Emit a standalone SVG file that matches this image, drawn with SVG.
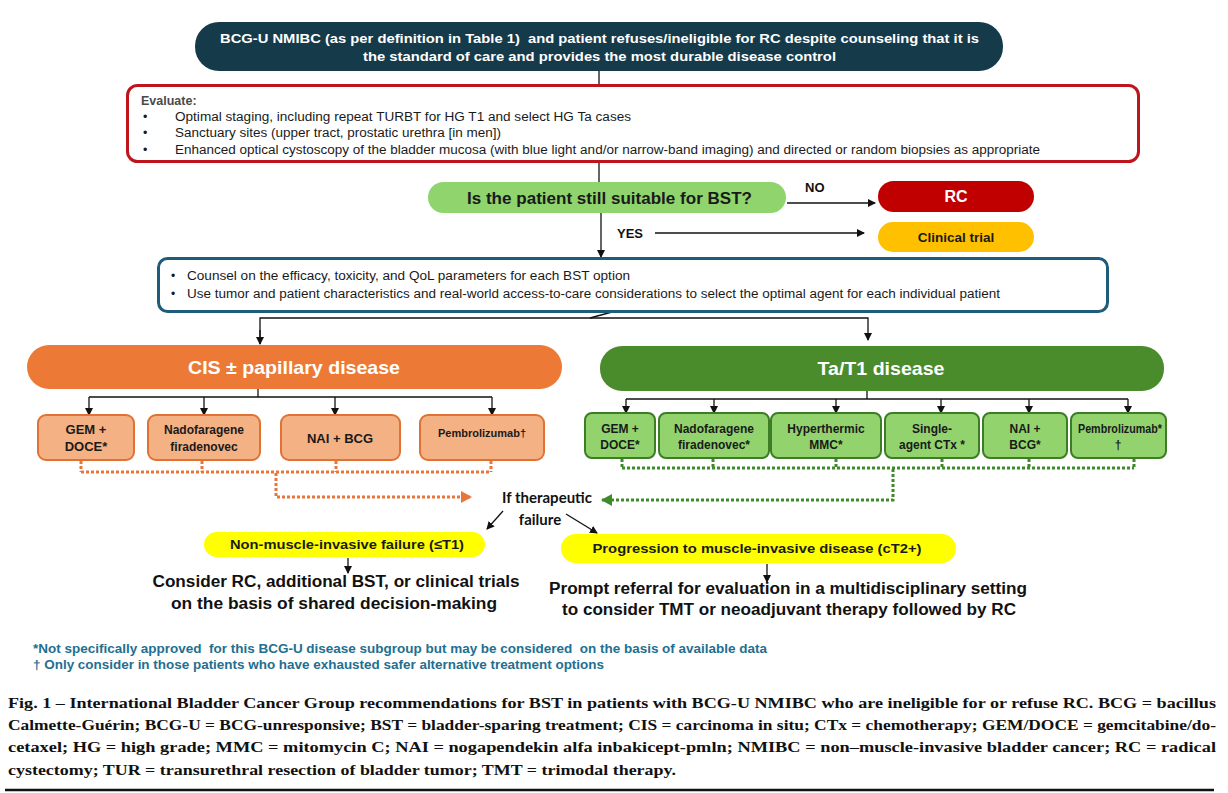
<svg xmlns="http://www.w3.org/2000/svg" width="1228" height="793" viewBox="0 0 1228 793">
<style>
.n{font-family:'Liberation Sans Narrow','Liberation Sans',Arial,sans-serif;font-weight:bold}
.a{font-family:'Liberation Sans',Arial,sans-serif}
.b{font-family:'Liberation Sans',Arial,sans-serif;font-weight:bold}
.c{text-anchor:middle}
.pre{white-space:pre}
.ln{stroke:#111;stroke-width:1.3;fill:none}
.cisbox{fill:#f4b183;stroke:#e07333;stroke-width:2}
.tabox{fill:#92d36e;stroke:#3c7d26;stroke-width:2}
.dot-o{stroke:#e8763a;stroke-width:3;stroke-dasharray:3 2;fill:none}
.dot-g{stroke:#3f8a2a;stroke-width:3;stroke-dasharray:3 2;fill:none}
.cap{font-family:'Liberation Serif','Times New Roman',serif;font-weight:bold;font-size:15px;fill:#111}
</style>
<defs>
<marker id="ah" markerWidth="8" markerHeight="8" refX="7" refY="4" orient="auto" markerUnits="userSpaceOnUse">
<path d="M0,0 L8,4 L0,8 z" fill="#111"/>
</marker>
<marker id="aho" markerWidth="12" markerHeight="12" refX="10" refY="6" orient="auto" markerUnits="userSpaceOnUse">
<path d="M0,0 L11,6 L0,12 z" fill="#e8763a"/>
</marker>
<marker id="ahg" markerWidth="12" markerHeight="12" refX="10" refY="6" orient="auto" markerUnits="userSpaceOnUse">
<path d="M0,0 L11,6 L0,12 z" fill="#3f8a2a"/>
</marker>
</defs>
<rect width="1228" height="793" fill="#fff"/>

<g id="connectors">
<line class="ln" x1="599" y1="71" x2="599" y2="86"/>
<line class="ln" x1="599" y1="162" x2="599" y2="182"/>
<line class="ln" x1="601" y1="213" x2="601" y2="257" marker-end="url(#ah)"/>
<line class="ln" x1="787" y1="203" x2="875" y2="203" marker-end="url(#ah)"/>
<line class="ln" x1="655" y1="233" x2="864" y2="233" marker-end="url(#ah)"/>
<polyline class="ln" points="612,312 590,318"/>
<polyline class="ln" points="260,344 260,318 868,318 868,340" marker-end="url(#ah)"/>
<line class="ln" x1="260" y1="330" x2="260" y2="344" marker-end="url(#ah)"/>
<polyline class="ln" points="258,389 258,397"/>
<line class="ln" x1="89" y1="397" x2="492" y2="397"/>
<line class="ln" x1="89" y1="397" x2="89" y2="415" marker-end="url(#ah)"/>
<line class="ln" x1="204" y1="397" x2="204" y2="415" marker-end="url(#ah)"/>
<line class="ln" x1="335" y1="397" x2="335" y2="415" marker-end="url(#ah)"/>
<line class="ln" x1="492" y1="397" x2="492" y2="415" marker-end="url(#ah)"/>
<polyline class="ln" points="867,391 867,399"/>
<line class="ln" x1="626" y1="399" x2="1128" y2="399"/>
<line class="ln" x1="626" y1="399" x2="626" y2="413" marker-end="url(#ah)"/>
<line class="ln" x1="714" y1="399" x2="714" y2="413" marker-end="url(#ah)"/>
<line class="ln" x1="836" y1="399" x2="836" y2="413" marker-end="url(#ah)"/>
<line class="ln" x1="941" y1="399" x2="941" y2="413" marker-end="url(#ah)"/>
<line class="ln" x1="1029" y1="399" x2="1029" y2="413" marker-end="url(#ah)"/>
<line class="ln" x1="1128" y1="399" x2="1128" y2="413" marker-end="url(#ah)"/>
<path class="dot-o" d="M81,461 V472 M202,461 V472 M336,461 V472 M491,461 V472 M81,472 H491"/>
<polyline class="dot-o" points="276,473 276,497 471,497" marker-end="url(#aho)"/>
<path class="dot-g" d="M622,459 V468 M713,459 V468 M836,459 V468 M942,459 V468 M1029,459 V468 M1134,459 V468 M622,468 H1134"/>
<polyline class="dot-g" points="893,469 893,500 602,500" marker-end="url(#ahg)"/>
<line class="ln" x1="503" y1="511" x2="487" y2="529" marker-end="url(#ah)"/>
<line class="ln" x1="566" y1="514" x2="597" y2="533" marker-end="url(#ah)"/>
<line class="ln" x1="348" y1="558" x2="348" y2="573" marker-end="url(#ah)"/>
<line class="ln" x1="767" y1="564" x2="767" y2="582" marker-end="url(#ah)"/>
</g>

<g id="header">
<rect x="195" y="22" width="808" height="49" rx="24" fill="#153b4b"/>
<text class="n c pre" x="599.5" y="43" font-size="13" fill="#fff" textLength="759" lengthAdjust="spacingAndGlyphs">BCG-U NMIBC (as per definition in Table 1)  and patient refuses/ineligible for RC despite counseling that it is</text>
<text class="n c" x="599.5" y="61" font-size="13" fill="#fff" textLength="473" lengthAdjust="spacingAndGlyphs">the standard of care and provides the most durable disease control</text>
</g>

<g id="evaluate">
<rect x="127.5" y="85.5" width="1011" height="76" rx="10" fill="#fff" stroke="#c0141c" stroke-width="3"/>
<text class="b" x="141" y="105" font-size="12.5" fill="#4a4a4a">Evaluate:</text>
<g class="a" font-size="12.5" fill="#1a1a1a">
<text x="143" y="120.5">•</text>
<text x="175" y="120.5" textLength="456" lengthAdjust="spacingAndGlyphs">Optimal staging, including repeat TURBT for HG T1 and select HG Ta cases</text>
<text x="143" y="137">•</text>
<text x="175" y="137" textLength="326" lengthAdjust="spacingAndGlyphs">Sanctuary sites (upper tract, prostatic urethra [in men])</text>
<text x="143" y="153.5">•</text>
<text x="175" y="153.5" textLength="865" lengthAdjust="spacingAndGlyphs">Enhanced optical cystoscopy of the bladder mucosa (with blue light and/or narrow-band imaging) and directed or random biopsies as appropriate</text>
</g>
</g>

<g id="question">
<rect x="428" y="182" width="358" height="31" rx="15.5" fill="#8fd46c"/>
<text class="n c" x="609.5" y="204" font-size="17" fill="#1a1a1a" textLength="285" lengthAdjust="spacingAndGlyphs">Is the patient still suitable for BST?</text>
</g>

<g id="label-no"><text class="n" x="805" y="192" font-size="13" fill="#111">NO</text></g>
<g id="label-yes"><text class="n" x="617" y="238" font-size="13" fill="#111">YES</text></g>

<g id="rc">
<rect x="878" y="181" width="156" height="31" rx="15.5" fill="#c00000"/>
<text class="n c" x="956" y="202" font-size="16" fill="#fff">RC</text>
</g>

<g id="clinical-trial">
<rect x="878" y="222" width="156" height="30" rx="15" fill="#ffc000"/>
<text class="n c" x="956" y="242" font-size="13.5" fill="#1a1a1a">Clinical trial</text>
</g>

<g id="counsel">
<rect x="158.5" y="258.5" width="949" height="53" rx="9" fill="#fff" stroke="#1f5c7a" stroke-width="3"/>
<g class="a" font-size="12" fill="#1a1a1a">
<text x="171" y="280">•</text>
<text x="187" y="280" textLength="443" lengthAdjust="spacingAndGlyphs">Counsel on the efficacy, toxicity, and QoL parameters for each BST option</text>
<text x="171" y="298">•</text>
<text x="187" y="298" textLength="813" lengthAdjust="spacingAndGlyphs">Use tumor and patient characteristics and real-world access-to-care considerations to select the optimal agent for each individual patient</text>
</g>
</g>

<g id="cis">
<rect x="27" y="345" width="535" height="44" rx="22" fill="#ec7a36"/>
<text class="n c" x="294" y="374" font-size="19" fill="#fff" textLength="212" lengthAdjust="spacingAndGlyphs">CIS ± papillary disease</text>
</g>

<g id="tat1">
<rect x="600" y="346" width="564" height="45" rx="22" fill="#4a8b2c"/>
<text class="n c" x="881" y="375" font-size="19" fill="#fff" textLength="127" lengthAdjust="spacingAndGlyphs">Ta/T1 disease</text>
</g>

<g id="cis-gem">
<rect class="cisbox" x="38" y="415" width="96" height="45" rx="8"/>
<text class="b c" x="86" y="434" font-size="13" fill="#1a1a1a">GEM +</text>
<text class="b c" x="86" y="451" font-size="13" fill="#1a1a1a">DOCE*</text>
</g>
<g id="cis-nado">
<rect class="cisbox" x="148" y="415" width="112" height="45" rx="8"/>
<text class="b c" x="204" y="434" font-size="12" fill="#1a1a1a">Nadofaragene</text>
<text class="b c" x="204" y="451" font-size="12" fill="#1a1a1a">firadenovec</text>
</g>
<g id="cis-nai">
<rect class="cisbox" x="281" y="415" width="119" height="45" rx="8"/>
<text class="b c" x="340" y="443" font-size="13" fill="#1a1a1a">NAI + BCG</text>
</g>
<g id="cis-pembro">
<rect class="cisbox" x="420" y="415" width="124" height="45" rx="8"/>
<text class="b c" x="482" y="437" font-size="11" fill="#1a1a1a">Pembrolizumab†</text>
</g>

<g id="ta-gem">
<rect class="tabox" x="585" y="413" width="70" height="45" rx="7"/>
<text class="b c" x="620" y="433" font-size="12" fill="#1a1a1a">GEM +</text>
<text class="b c" x="620" y="449" font-size="12" fill="#1a1a1a">DOCE*</text>
</g>
<g id="ta-nado">
<rect class="tabox" x="659" y="413" width="110" height="45" rx="7"/>
<text class="b c" x="714" y="433" font-size="12" fill="#1a1a1a">Nadofaragene</text>
<text class="b c" x="714" y="449" font-size="12" fill="#1a1a1a">firadenovec*</text>
</g>
<g id="ta-hmmc">
<rect class="tabox" x="771" y="413" width="110" height="45" rx="7"/>
<text class="b c" x="826" y="433" font-size="12" fill="#1a1a1a">Hyperthermic</text>
<text class="b c" x="826" y="449" font-size="12" fill="#1a1a1a">MMC*</text>
</g>
<g id="ta-ctx">
<rect class="tabox" x="885" y="413" width="94" height="45" rx="7"/>
<text class="b c" x="932" y="433" font-size="12" fill="#1a1a1a">Single-</text>
<text class="b c" x="932" y="449" font-size="12" fill="#1a1a1a">agent CTx *</text>
</g>
<g id="ta-nai">
<rect class="tabox" x="983" y="413" width="84" height="45" rx="7"/>
<text class="b c" x="1025" y="433" font-size="12" fill="#1a1a1a">NAI +</text>
<text class="b c" x="1025" y="449" font-size="12" fill="#1a1a1a">BCG*</text>
</g>
<g id="ta-pembro">
<rect class="tabox" x="1071" y="413" width="95" height="45" rx="7"/>
<text class="b c" x="1120" y="433" font-size="12" fill="#1a1a1a" textLength="84" lengthAdjust="spacingAndGlyphs">Pembrolizumab*</text>
<text class="b c" x="1118" y="449" font-size="12" fill="#1a1a1a">†</text>
</g>

<g id="failure">
<text x="547" y="503" font-family="Lato,'Open Sans',sans-serif" font-weight="bold" font-size="15" fill="#111" text-anchor="middle">If therapeutic</text>
<text x="540" y="525" font-family="Lato,'Open Sans',sans-serif" font-weight="bold" font-size="15" fill="#111" text-anchor="middle">failure</text>
</g>

<g id="nmi-failure">
<rect x="204" y="532" width="281" height="25" rx="12.5" fill="#ffff00"/>
<text class="b c" x="347" y="549" font-size="13" fill="#1a1a1a" textLength="234" lengthAdjust="spacingAndGlyphs">Non-muscle-invasive failure (≤T1)</text>
</g>
<g id="nmi-action">
<text class="b c" x="336" y="587" font-size="16" fill="#111" textLength="367" lengthAdjust="spacingAndGlyphs">Consider RC, additional BST, or clinical trials</text>
<text class="b c" x="334" y="609" font-size="16" fill="#111" textLength="326" lengthAdjust="spacingAndGlyphs">on the basis of shared decision-making</text>
</g>

<g id="progression">
<rect x="561" y="534" width="395" height="29" rx="14.5" fill="#ffff00"/>
<text class="b c" x="757" y="553" font-size="13" fill="#1a1a1a" textLength="329" lengthAdjust="spacingAndGlyphs">Progression to muscle-invasive disease (cT2+)</text>
</g>
<g id="prog-action">
<text class="b c" x="788" y="594" font-size="16" fill="#111" textLength="478" lengthAdjust="spacingAndGlyphs">Prompt referral for evaluation in a multidisciplinary setting</text>
<text class="b c" x="789" y="615" font-size="16" fill="#111" textLength="454" lengthAdjust="spacingAndGlyphs">to consider TMT or neoadjuvant therapy followed by RC</text>
</g>

<g id="footnotes">
<text class="n pre" x="33" y="653" font-size="12.5" fill="#236f90" textLength="734" lengthAdjust="spacingAndGlyphs">*Not specifically approved  for this BCG-U disease subgroup but may be considered  on the basis of available data</text>
<text class="n" x="33" y="669" font-size="12.5" fill="#236f90" textLength="571" lengthAdjust="spacingAndGlyphs">† Only consider in those patients who have exhausted safer alternative treatment options</text>
</g>

<g id="caption">
<text class="cap" x="8" y="708" textLength="1208" lengthAdjust="spacingAndGlyphs">Fig. 1 – International Bladder Cancer Group recommendations for BST in patients with BCG-U NMIBC who are ineligible for or refuse RC. BCG = bacillus</text>
<text class="cap" x="8" y="730" textLength="1208" lengthAdjust="spacingAndGlyphs">Calmette-Guérin; BCG-U = BCG-unresponsive; BST = bladder-sparing treatment; CIS = carcinoma in situ; CTx = chemotherapy; GEM/DOCE = gemcitabine/do-</text>
<text class="cap" x="8" y="752" textLength="1208" lengthAdjust="spacingAndGlyphs">cetaxel; HG = high grade; MMC = mitomycin C; NAI = nogapendekin alfa inbakicept-pmln; NMIBC = non–muscle-invasive bladder cancer; RC = radical</text>
<text class="cap" x="8" y="775" textLength="668" lengthAdjust="spacingAndGlyphs">cystectomy; TUR = transurethral resection of bladder tumor; TMT = trimodal therapy.</text>
<line x1="5" y1="790" x2="1214" y2="790" stroke="#111" stroke-width="2.5"/>
</g>
</svg>
